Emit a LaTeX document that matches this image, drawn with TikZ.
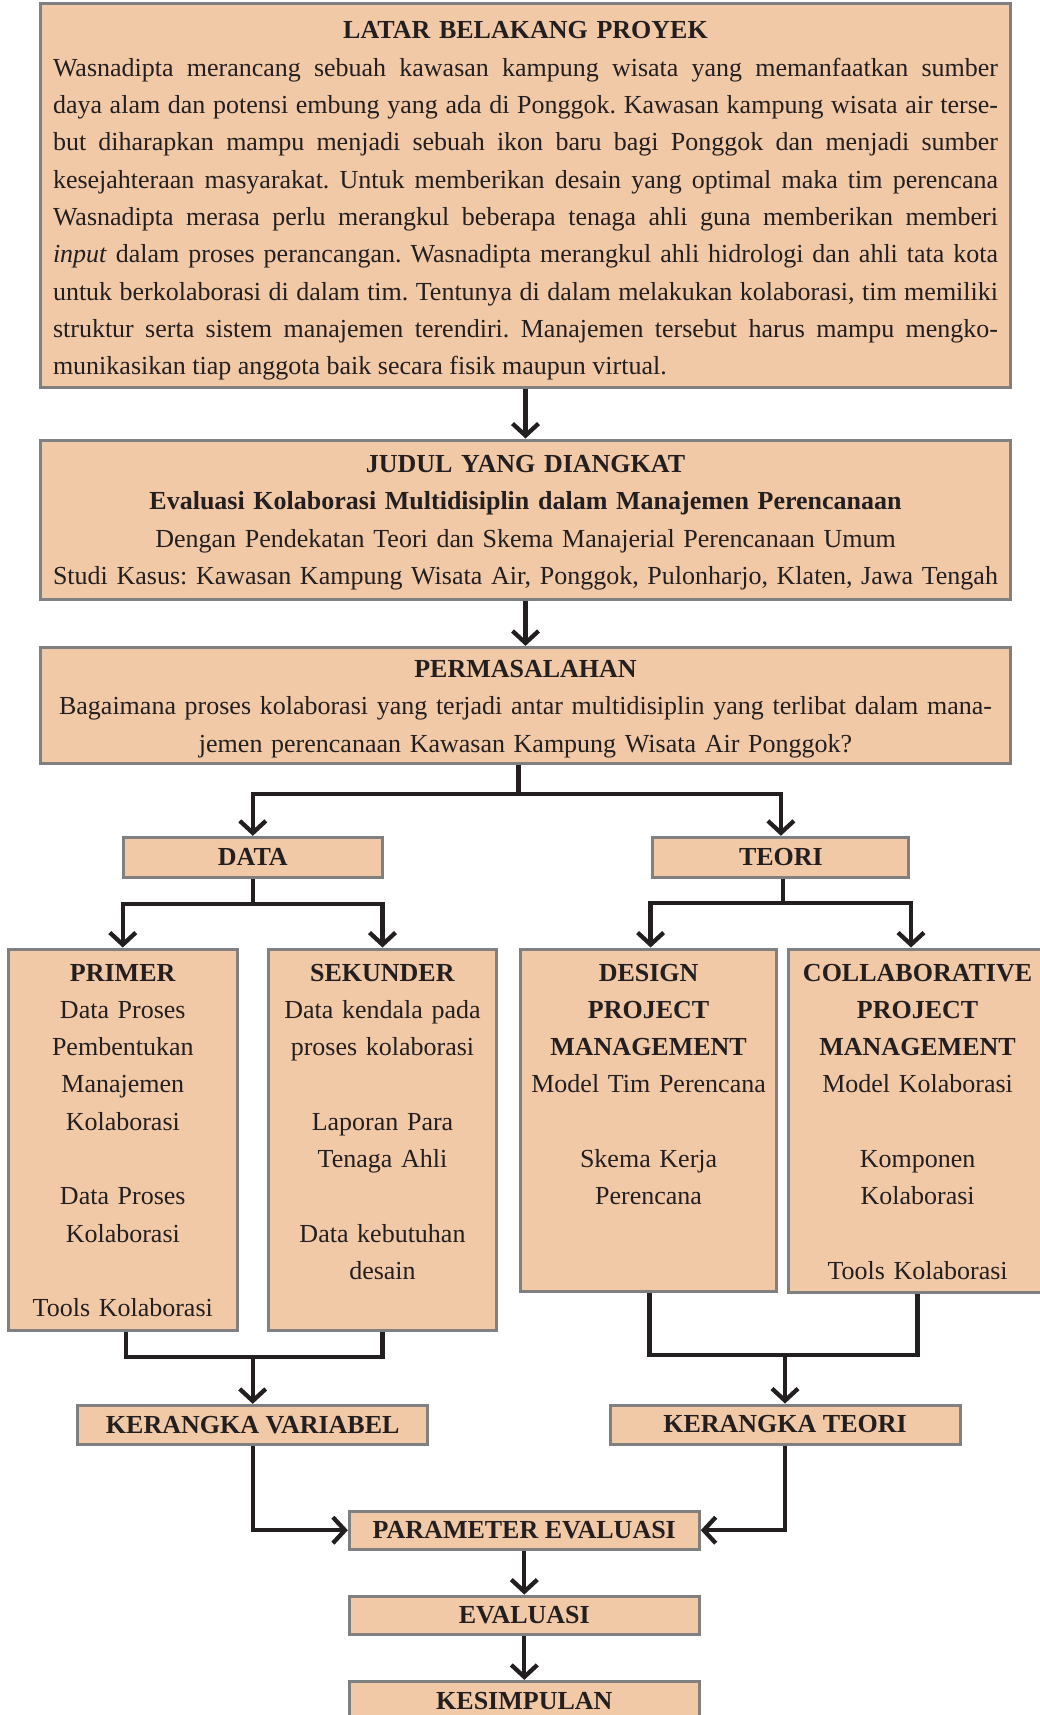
\documentclass[tikz,border=0pt]{standalone}
\usepackage{fontspec}
\setmainfont{Liberation Serif}
\usetikzlibrary{arrows.meta,calc}
\definecolor{boxfill}{HTML}{F2C9A7}
\definecolor{boxedge}{HTML}{808080}
\definecolor{ink}{HTML}{231F20}
\begin{document}
\frenchspacing
\begin{tikzpicture}[x=1pt,y=-1pt,
  box/.style={draw=boxedge,line width=3pt,fill=boxfill,inner sep=0pt,text=ink},
  lbl/.style={box,font=\fontsize{26}{37.3}\selectfont\frenchspacing\bfseries},
  txt/.style={text=ink,font=\fontsize{26}{37.3}\selectfont\frenchspacing,align=center,inner sep=0pt,anchor=base},
  conn/.style={draw=ink,line width=4.3pt},
  arr/.style={conn,-{Straight Barb[length=12pt,width=26pt]}},
  biarr/.style={conn,{Straight Barb[length=12pt,width=26pt]}-{Straight Barb[length=12pt,width=26pt]}},
]
\useasboundingbox (0,0) rectangle (1040,1715);
\clip (0,0) rectangle (1040,1715);

% boxes
\node[box,minimum width=970pt,minimum height=383pt] (top) at (525.5,195.5) {};
\node[box,minimum width=970pt,minimum height=159pt] (judul) at (525.5,519.5) {};
\node[box,minimum width=970pt,minimum height=116pt] (perm) at (525.5,705.4) {};
\node[lbl,minimum width=259pt,minimum height=40pt] (data) at (252.8,857.3) {DATA};
\node[lbl,minimum width=256pt,minimum height=40pt] (teori) at (780.9,857.3) {TEORI};
\node[box,minimum width=229pt,minimum height=381pt] (primer) at (122.8,1139.5) {};
\node[box,minimum width=228.4pt,minimum height=381pt] (sekunder) at (382.5,1139.5) {};
\node[box,minimum width=256pt,minimum height=342pt] (design) at (648.6,1120) {};
\node[box,minimum width=258.7pt,minimum height=343pt] (collab) at (917.6,1120.5) {};
\node[lbl,minimum width=350pt,minimum height=38.7pt] (kv) at (252.7,1424.7) {KERANGKA VARIABEL};
\node[lbl,minimum width=350pt,minimum height=39pt] (kt) at (785,1424.5) {KERANGKA TEORI};
\node[lbl,minimum width=350pt,minimum height=38.3pt] (param) at (524.3,1530.2) {PARAMETER EVALUASI};
\node[lbl,minimum width=350pt,minimum height=38.7pt] (eval) at (524.3,1615.4) {EVALUASI};
\node[lbl,minimum width=350pt,minimum height=38.7pt] (kes) at (524.3,1700.7) {KESIMPULAN};

% texts
\node[txt,text width=945pt] (topT) at (525.5,39) {\makebox[945pt][c]{\textbf{LATAR BELAKANG PROYEK}}\\
\spaceskip=0.25em plus 0.4em minus 0.1em\relax
\makebox[945pt][s]{Wasnadipta merancang sebuah kawasan kampung wisata yang memanfaatkan sumber}\\
\makebox[945pt][s]{daya alam dan potensi embung yang ada di Ponggok. Kawasan kampung wisata air terse-}\\
\makebox[945pt][s]{but diharapkan mampu menjadi sebuah ikon baru bagi Ponggok dan menjadi sumber}\\
\makebox[945pt][s]{kesejahteraan masyarakat. Untuk memberikan desain yang optimal maka tim perencana}\\
\makebox[945pt][s]{Wasnadipta merasa perlu merangkul beberapa tenaga ahli guna memberikan memberi}\\
\makebox[945pt][s]{\textit{input} dalam proses perancangan. Wasnadipta merangkul ahli hidrologi dan ahli tata kota}\\
\makebox[945pt][s]{untuk berkolaborasi di dalam tim. Tentunya di dalam melakukan kolaborasi, tim memiliki}\\
\makebox[945pt][s]{struktur serta sistem manajemen terendiri. Manajemen tersebut harus mampu mengko-}\\
\makebox[945pt][l]{munikasikan tiap anggota baik secara fisik maupun virtual.}};

\node[txt,text width=960pt] (judulT) at (525.5,472.5) {\textbf{JUDUL YANG DIANGKAT}\\
\textbf{Evaluasi Kolaborasi Multidisiplin dalam Manajemen Perencanaan}\\
Dengan Pendekatan Teori dan Skema Manajerial Perencanaan Umum\\
Studi Kasus: Kawasan Kampung Wisata Air, Ponggok, Pulonharjo, Klaten, Jawa Tengah};

\node[txt,text width=960pt] (permT) at (525.5,677.5) {\textbf{PERMASALAHAN}\\
Bagaimana proses kolaborasi yang terjadi antar multidisiplin yang terlibat dalam mana-\\
jemen perencanaan Kawasan Kampung Wisata Air Ponggok?};

\node[txt,text width=222pt] (primerT) at (122.8,981) {\textbf{PRIMER}\\Data Proses\\Pembentukan\\Manajemen\\Kolaborasi\\[37.3pt]Data Proses\\Kolaborasi\\[37.3pt]Tools Kolaborasi};
\node[txt,text width=222pt] (sekunderT) at (382.5,981) {\textbf{SEKUNDER}\\Data kendala pada\\proses kolaborasi\\[37.3pt]Laporan Para\\Tenaga Ahli\\[37.3pt]Data kebutuhan\\desain};
\node[txt,text width=250pt] (designT) at (648.6,981) {\textbf{DESIGN}\\\textbf{PROJECT}\\\textbf{MANAGEMENT}\\Model Tim Perencana\\[37.3pt]Skema Kerja\\Perencana};
\node[txt,text width=250pt] (collabT) at (917.6,981) {\textbf{COLLABORATIVE}\\\textbf{PROJECT}\\\textbf{MANAGEMENT}\\Model Kolaborasi\\[37.3pt]Komponen\\Kolaborasi\\[37.3pt]Tools Kolaborasi};

% helper levels
\coordinate (yP) at (518.4,794);
\coordinate (yD) at (0,904.3);
\coordinate (yT) at (0,903.3);
\coordinate (yL) at (0,1356.7);
\coordinate (yR) at (0,1355);

% connectors
\draw[arr] (top.south) -- (judul.north);
\draw[arr] (judul.south) -- (perm.north);
\draw[conn] (yP |- perm.south) -- (yP);
\draw[biarr] (data.north) |- (yP) -| (teori.north);

\draw[conn] (data.south) -- (data.south |- yD);
\draw[biarr] (primer.north) |- (yD -| data.south) -| (sekunder.north);

\draw[conn] ([xshift=2pt]teori.south) -- ([xshift=2pt]teori.south |- yT);
\draw[biarr] ([xshift=2pt]design.north) |- ([xshift=2pt]teori.south |- yT) -| ([xshift=-6.6pt]collab.north);

\draw[conn] ([xshift=3pt]primer.south) |- (yL -| sekunder.south) -- (sekunder.south);
\draw[arr] (yL -| kv.north) -- (kv.north);
\draw[conn] ([xshift=1pt]design.south) |- (yR -| collab.south) -- (collab.south);
\draw[arr] (yR -| kt.north) -- (kt.north);

\draw[arr] (kv.south) |- (param.west);
\draw[arr] (kt.south) |- (param.east);
\draw[arr] (param.south) -- (eval.north);
\draw[arr] (eval.south) -- (kes.north);
\end{tikzpicture}
\end{document}
